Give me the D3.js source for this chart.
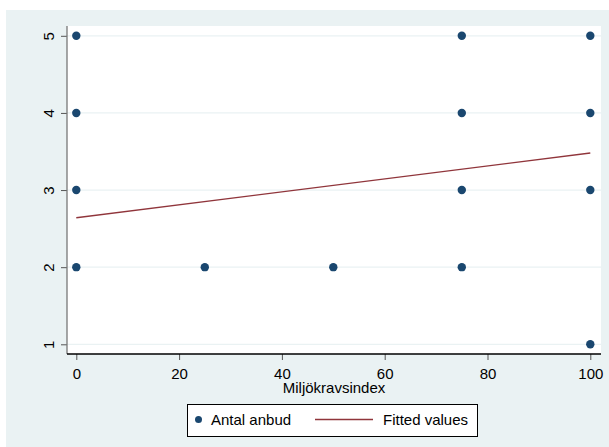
<!DOCTYPE html>
<head>
    <meta charset="utf-8">
    <title>Antal anbud</title>
    <style>
        body { margin: 0; background: #fff; }
        text { font-family: "Liberation Sans", Arial, sans-serif; }
    </style>
</head>
<body>

    <svg width="609" height="447"></svg>

<script src="https://cdn.jsdelivr.net/npm/d3@7"></script>

<script>

    // scatter points: Miljökravsindex vs Antal anbud
    var indexValues = [0, 0, 0, 0, 25, 50, 75, 75, 75, 75, 100, 100, 100, 100];
    var bidValues   = [5, 4, 3, 2, 2, 2, 5, 4, 3, 2, 5, 4, 3, 1];

    // fitted line endpoints
    var fitX = [0, 100];
    var fitY = [2.64, 3.48];

    var xTicks = [0, 20, 40, 60, 80, 100];
    var yTicks = [1, 2, 3, 4, 5];

    var svg = d3.select("svg");

    var navy = "#1a476f",
        maroon = "#90353b",
        bg = "#eaf2f3";

    // outer graph region
    svg.append("rect")
        .attr("x", 6).attr("y", 10)
        .attr("width", 603).attr("height", 437)
        .attr("fill", bg);

    var plot = { left: 67, right: 601, top: 26, bottom: 354 };

    svg.append("rect")
        .attr("x", plot.left).attr("y", plot.top)
        .attr("width", plot.right - plot.left)
        .attr("height", plot.bottom - plot.top)
        .attr("fill", "#fff");

    var x = d3.scaleLinear().domain([0, 100]).range([76.3, 590.3]);
    var y = d3.scaleLinear().domain([1, 5]).range([344.3, 35.8]);

    // gridlines
    svg.append("g")
        .selectAll("line")
        .data(yTicks)
        .enter().append("line")
            .attr("x1", plot.left).attr("x2", plot.right)
            .attr("y1", function(d) { return y(d); })
            .attr("y2", function(d) { return y(d); })
            .attr("stroke", bg)
            .attr("stroke-width", 1.3);

    // y axis
    var gy = svg.append("g")
        .attr("transform", "translate(" + plot.left + ",0)")
        .call(d3.axisLeft(y).tickValues(yTicks).tickSize(6).tickFormat(d3.format("d")));
    gy.select(".domain").remove();
    gy.selectAll(".tick line").attr("stroke", "#555");
    gy.selectAll(".tick text")
        .attr("font-size", 15)
        .attr("fill", "#000")
        .attr("text-anchor", "middle")
        .attr("x", null)
        .attr("transform", "translate(-18,0) rotate(-90)")
        .attr("dy", "0.35em");
    svg.append("line")
        .attr("x1", plot.left).attr("x2", plot.left)
        .attr("y1", plot.top).attr("y2", plot.bottom)
        .attr("stroke", "#777").attr("stroke-width", 1.3);

    // x axis
    var gx = svg.append("g")
        .attr("transform", "translate(0," + plot.bottom + ")")
        .call(d3.axisBottom(x).tickValues(xTicks).tickSize(6).tickPadding(8).tickFormat(d3.format("d")));
    gx.select(".domain").remove();
    gx.selectAll(".tick line").attr("stroke", "#555");
    gx.selectAll(".tick text").attr("font-size", 15).attr("fill", "#000");
    svg.append("line")
        .attr("x1", plot.left).attr("x2", plot.right)
        .attr("y1", plot.bottom).attr("y2", plot.bottom)
        .attr("stroke", "#000").attr("stroke-width", 1.3);

    svg.append("text")
        .attr("x", (plot.left + plot.right) / 2)
        .attr("y", 393)
        .attr("text-anchor", "middle")
        .attr("font-size", 15)
        .text("Miljökravsindex");

    // fitted line
    svg.append("line")
        .attr("x1", x(fitX[0])).attr("y1", y(fitY[0]))
        .attr("x2", x(fitX[1])).attr("y2", y(fitY[1]))
        .attr("stroke", maroon).attr("stroke-width", 1.4);

    // points
    svg.append("g")
        .selectAll("circle")
        .data(d3.range(indexValues.length))
        .enter().append("circle")
            .attr("cx", function(i) { return x(indexValues[i]); })
            .attr("cy", function(i) { return y(bidValues[i]); })
            .attr("r", 4.2)
            .attr("fill", navy);

    // legend
    var lg = svg.append("g");
    lg.append("rect")
        .attr("x", 187.5).attr("y", 404.5)
        .attr("width", 290).attr("height", 32)
        .attr("fill", "#fff").attr("stroke", "#000").attr("stroke-width", 1);
    lg.append("circle")
        .attr("cx", 198.5).attr("cy", 419.5).attr("r", 3.5).attr("fill", navy);
    lg.append("text")
        .attr("x", 211).attr("y", 425)
        .attr("font-size", 15)
        .text("Antal anbud");
    lg.append("line")
        .attr("x1", 315).attr("x2", 373)
        .attr("y1", 419.5).attr("y2", 419.5)
        .attr("stroke", maroon).attr("stroke-width", 1.4);
    lg.append("text")
        .attr("x", 383).attr("y", 425)
        .attr("font-size", 15)
        .text("Fitted values");

</script>

</body>
